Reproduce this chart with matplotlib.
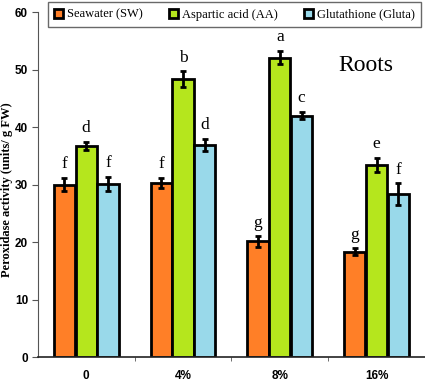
import numpy as np
from matplotlib import pyplot as plt

groups = ["0", "4%", "8%", "16%"]
series = ["Seawater (SW)", "Aspartic acid (AA)", "Glutathione (Gluta)"]
sw = [30.0, 30.3, 20.1, 18.3]
aa = [36.7, 48.3, 52.1, 33.4]
gluta = [30.1, 36.9, 42.0, 28.3]
sw_err = [1.2, 0.9, 0.9, 0.6]
aa_err = [0.7, 1.4, 1.2, 1.2]
gluta_err = [1.2, 1.1, 0.6, 1.9]
sw_let = ["f", "f", "g", "g"]
aa_let = ["d", "b", "a", "e"]
gluta_let = ["f", "d", "c", "f"]
colors = ["#ff7f27", "#b5e61d", "#99d9ea"]

fig = plt.figure(figsize=(4.25, 3.8), dpi=100)
ax = fig.add_axes([0.089, 0.0605, 0.911, 0.9075])

x = np.arange(len(groups))
w = 0.22
offs = [-0.225, 0, 0.225]
vals = [sw, aa, gluta]
errs = [sw_err, aa_err, gluta_err]
lets = [sw_let, aa_let, gluta_let]
for i in range(3):
    ax.bar(x + offs[i], vals[i], w, color=colors[i], edgecolor="black",
           linewidth=2, label=series[i], zorder=2)
    ax.errorbar(x + offs[i], vals[i], yerr=errs[i], fmt="none", ecolor="black",
                elinewidth=2, capsize=2.5, capthick=2, zorder=3)
    for j in range(len(groups)):
        ax.text(x[j] + offs[i], vals[i][j] + errs[i][j] + 1.0, lets[i][j],
                ha="center", va="bottom", fontsize=12.5, family="Liberation Serif")

ax.text(2.6, 50.8, "Roots", fontsize=17, family="Liberation Serif", va="center")

ax.set_xlim(-0.5, 3.5)
ax.set_ylim(0, 60)
ax.set_yticks(range(0, 61, 10))
ax.set_xticks(x)
ax.set_xticklabels(groups, fontweight="bold", fontsize=8.5, family="Liberation Sans")
ax.set_xticks([0.5, 1.5, 2.5], minor=True)
ax.tick_params(axis="x", which="major", length=0, pad=9)
ax.tick_params(axis="x", which="minor", length=3, direction="out", color="#555555")
ax.tick_params(axis="y", length=4, direction="out", color="#555555", pad=3)
for t in ax.get_yticklabels():
    t.set_fontweight("bold")
    t.set_fontsize(8.5)
    t.set_family("Liberation Sans")
ax.set_ylabel("Peroxidase activity (units/ g FW)", fontweight="bold", fontsize=9,
              family="Liberation Serif")
ax.yaxis.set_label_coords(-0.063, 0.484)
ax.spines["top"].set_visible(False)
ax.spines["right"].set_visible(False)
ax.spines["left"].set_color("#555555")
ax.spines["bottom"].set_color("#222222")
ax.spines["bottom"].set_linewidth(1.2)

leg = fig.legend(loc="lower left", bbox_to_anchor=(0.113, 0.929, 0.877, 0.071),
                 mode="expand", ncol=3, fancybox=False, handlelength=0.7,
                 handleheight=0.7, handletextpad=0.3, borderaxespad=0,
                 borderpad=0.5, prop={"family": "Liberation Serif", "size": 9})
leg.get_frame().set_edgecolor("#444444")
leg.get_frame().set_linewidth(1)

fig.savefig("out.png", dpi=100)
